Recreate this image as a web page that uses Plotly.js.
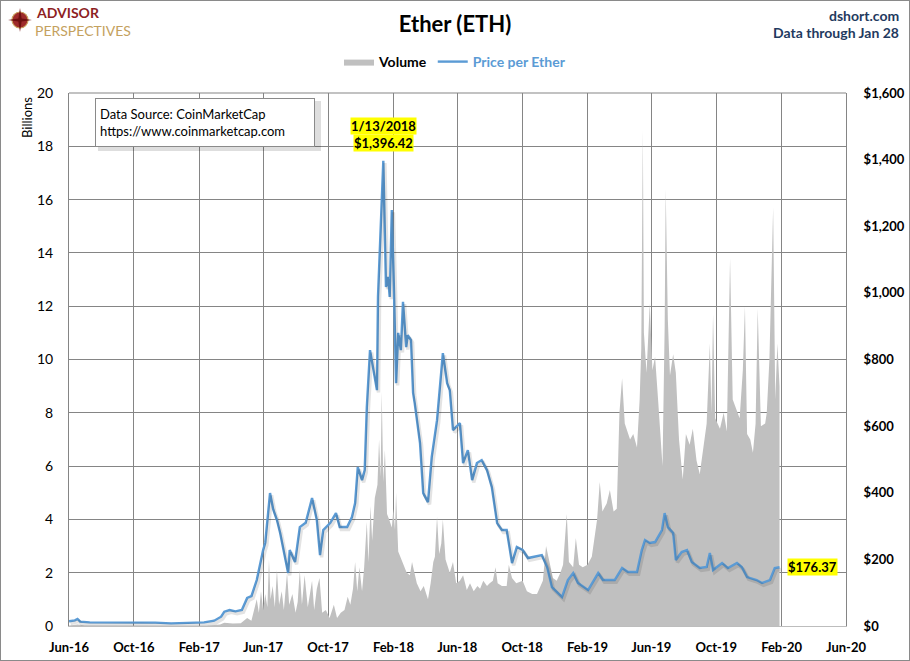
<!DOCTYPE html>
<html>
<head>
<meta charset="utf-8">
<script src="https://cdn.plot.ly/plotly-3.0.1.min.js"></script>
<style>
  html, body { margin: 0; padding: 0; background: #fff; }
  #wrap { position: relative; width: 910px; height: 661px; }
  #chart { width: 910px; height: 661px; }
  #frame { position: absolute; left: 0; top: 0; width: 910px; height: 661px; box-sizing: border-box;
           border: 1px solid #8a8a8a; pointer-events: none; }
</style>
</head>
<body>
<div id="wrap"><div id="chart"></div><div id="frame"></div></div>
<script>
// ---------------- DATA ----------------
const volumeDates = [
"2016-06-01","2016-06-17","2016-07-01","2016-09-01","2016-12-01","2017-02-15","2017-03-12","2017-03-20","2017-04-05","2017-04-20",
"2017-05-02","2017-05-10","2017-05-20","2017-05-24","2017-05-28","2017-06-01","2017-06-05","2017-06-09","2017-06-12","2017-06-15",
"2017-06-19","2017-06-23","2017-06-27","2017-07-01","2017-07-06","2017-07-10","2017-07-16","2017-07-20","2017-07-26","2017-08-01",
"2017-08-05","2017-08-09","2017-08-13","2017-08-18","2017-08-24","2017-09-01","2017-09-05","2017-09-10","2017-09-15","2017-09-20",
"2017-09-27","2017-10-04","2017-10-12","2017-10-18","2017-10-25","2017-11-01","2017-11-07","2017-11-12","2017-11-17","2017-11-21",
"2017-11-25","2017-11-29","2017-12-04","2017-12-08","2017-12-13","2017-12-16","2017-12-20","2017-12-23","2017-12-28","2018-01-02",
"2018-01-05","2018-01-08","2018-01-10","2018-01-13","2018-01-16","2018-01-20","2018-01-24","2018-01-29","2018-02-01","2018-02-04",
"2018-02-06","2018-02-10","2018-02-14","2018-02-20","2018-02-26","2018-03-04","2018-03-08","2018-03-17","2018-03-24","2018-03-30",
"2018-04-07","2018-04-12","2018-04-17","2018-04-20","2018-04-24","2018-04-28","2018-05-02","2018-05-05","2018-05-10","2018-05-18",
"2018-05-24","2018-05-30","2018-06-06","2018-06-12","2018-06-19","2018-06-25","2018-07-02","2018-07-09","2018-07-14","2018-07-20",
"2018-07-27","2018-08-01","2018-08-07","2018-08-12","2018-08-16","2018-08-24","2018-09-02","2018-09-06","2018-09-12","2018-09-20",
"2018-10-02","2018-10-10","2018-10-20","2018-10-29","2018-11-09","2018-11-15","2018-11-19","2018-11-22","2018-11-28","2018-12-05",
"2018-12-12","2018-12-17","2018-12-24","2018-12-28","2019-01-05","2019-01-10","2019-01-16","2019-01-23","2019-02-01","2019-02-09",
"2019-02-14","2019-02-19","2019-02-24","2019-03-01","2019-03-09","2019-03-15","2019-03-22","2019-03-28","2019-04-02","2019-04-07",
"2019-04-12","2019-04-22","2019-04-28","2019-05-05","2019-05-10","2019-05-13","2019-05-16","2019-05-18","2019-05-23","2019-05-29",
"2019-06-03","2019-06-08","2019-06-14","2019-06-22","2019-06-26","2019-06-28","2019-07-02","2019-07-06","2019-07-12","2019-07-17",
"2019-07-23","2019-07-30","2019-08-05","2019-08-12","2019-08-18","2019-08-25","2019-08-31","2019-09-06","2019-09-13","2019-09-19",
"2019-09-22","2019-09-25","2019-09-29","2019-10-08","2019-10-15","2019-10-21","2019-10-27","2019-11-01","2019-11-07","2019-11-14",
"2019-11-20","2019-11-24","2019-11-28","2019-12-04","2019-12-09","2019-12-14","2019-12-18","2019-12-24","2020-01-01","2020-01-04",
"2020-01-09","2020-01-14","2020-01-16","2020-01-20","2020-01-24","2020-01-28"
];
const volumeBillions = [
0.02,0.06,0.02,0.01,0.01,0.01,0.06,0.12,0.09,0.1,
0.3,0.2,1.0,0.5,1.3,0.6,1.2,0.7,2.5,1.0,
1.5,0.7,2.1,0.8,1.3,0.6,2.0,0.8,1.2,0.5,
0.9,2.1,0.8,1.9,0.7,1.7,0.6,1.4,1.8,0.5,
0.6,0.3,0.8,0.3,0.5,0.6,1.1,0.8,1.4,2.4,
1.3,2.2,1.3,2.2,3.9,2.4,4.5,3.2,4.8,5.3,
7.0,5.6,8.8,5.4,6.6,4.2,4.0,3.7,4.4,3.6,
5.0,2.8,2.6,2.3,2.0,1.9,2.4,1.6,1.3,1.5,
1.0,1.6,2.4,2.6,4.1,2.7,3.1,4.0,2.5,2.0,
2.4,1.6,1.7,1.9,1.35,1.6,1.3,1.5,1.4,1.7,
1.5,1.6,1.7,2.2,1.6,1.5,1.5,2.3,1.8,1.6,
1.7,1.3,1.2,1.2,1.7,3.0,2.6,2.3,1.8,1.7,
2.0,2.3,4.2,2.4,2.2,3.3,2.3,2.2,2.3,2.6,
3.4,4.0,5.4,4.3,4.6,5.1,4.3,4.4,8.0,9.3,
7.6,7.0,7.2,6.7,8.5,10.4,18.6,11.0,9.5,12.1,
9.6,10.1,8.4,6.0,11.2,16.4,11.5,9.4,10.2,9.5,
7.0,5.5,7.2,6.8,7.4,6.2,5.7,6.6,7.6,10.6,
8.0,11.7,7.8,7.4,8.0,7.3,13.8,8.5,8.2,7.8,
9.6,12.0,7.2,7.0,6.5,7.6,11.9,7.5,7.6,8.0,
10.0,15.0,15.7,8.5,10.6,9.0
];

const priceDates = [
"2016-06-01","2016-06-12","2016-06-17","2016-06-22","2016-07-10","2016-08-10","2016-09-10","2016-10-10","2016-11-10","2016-12-10",
"2017-01-10","2017-02-10","2017-03-01","2017-03-14","2017-03-20","2017-03-30","2017-04-10","2017-04-22","2017-05-02","2017-05-10",
"2017-05-20","2017-05-26","2017-06-01","2017-06-05","2017-06-14","2017-06-20","2017-06-27","2017-07-03","2017-07-10","2017-07-18",
"2017-07-21","2017-07-31","2017-08-09","2017-08-20","2017-09-01","2017-09-10","2017-09-16","2017-09-22","2017-10-05","2017-10-16",
"2017-10-23","2017-11-06","2017-11-15","2017-11-21","2017-11-26","2017-12-04","2017-12-09","2017-12-13","2017-12-19","2017-12-25",
"2018-01-01","2018-01-03","2018-01-10","2018-01-13","2018-01-18","2018-01-22","2018-01-25","2018-01-29","2018-02-02","2018-02-06",
"2018-02-10","2018-02-15","2018-02-19","2018-02-25","2018-02-28","2018-03-06","2018-03-10","2018-03-13","2018-03-23","2018-03-29",
"2018-04-07","2018-04-14","2018-04-24","2018-05-05","2018-05-13","2018-05-18","2018-05-24","2018-06-06","2018-06-12","2018-06-21",
"2018-06-29","2018-07-08","2018-07-17","2018-07-27","2018-08-05","2018-08-15","2018-08-24","2018-09-02","2018-09-12","2018-09-21",
"2018-10-02","2018-10-12","2018-11-07","2018-11-17","2018-11-26","2018-12-15","2018-12-26","2019-01-05","2019-01-14","2019-02-02",
"2019-02-21","2019-03-02","2019-03-24","2019-04-07","2019-04-18","2019-05-05","2019-05-14","2019-05-20","2019-05-29","2019-06-08",
"2019-06-21","2019-06-26","2019-07-02","2019-07-12","2019-07-17","2019-07-28","2019-08-07","2019-08-16","2019-08-31","2019-09-13",
"2019-09-19","2019-09-25","2019-10-12","2019-10-23","2019-11-09","2019-11-18","2019-11-28","2019-12-16","2019-12-26","2020-01-10",
"2020-01-19","2020-01-28"
];
const priceUSD = [
14,17,21,13,11,11,12,12,10,8,
10,11,16,28,43,48,44,48,84,90,
138,189,228,250,399,350,318,279,220,159,
228,192,297,310,384,318,213,288,309,339,
297,297,327,369,477,438,468,657,828,777,
708,988,1300,1396.42,1018,1048,988,1249,1009,729,
880,828,973,837,873,858,700,669,549,399,
372,507,618,819,729,708,588,609,489,528,
438,489,498,468,417,309,288,288,189,237,
228,204,213,177,117,87,138,159,129,108,
159,138,138,174,162,162,228,258,249,252,
288,339,297,279,198,222,228,192,174,177,
219,168,189,174,189,177,147,138,129,138,
174,176.37
];

const xTickVals = ["2016-06-01","2016-10-01","2017-02-01","2017-06-01","2017-10-01","2018-02-01","2018-06-01",
                   "2018-10-01","2019-02-01","2019-06-01","2019-10-01","2020-02-01","2020-06-01"];
const xTickText = ["Jun-16","Oct-16","Feb-17","Jun-17","Oct-17","Feb-18","Jun-18",
                   "Oct-18","Feb-19","Jun-19","Oct-19","Feb-20","Jun-20"];

const peakDate = "2018-01-13", peakLabelDate = "1/13/2018", peakLabelPrice = "$1,396.42";
const lastDate = "2020-01-28", lastLabel = "$176.37", lastPrice = 176.37;

// ---------------- LAYOUT HELPERS ----------------
const W = 910, H = 661, ML = 69, MR = 64, MT = 93, MB = 35;
const PW = W - ML - MR, PH = H - MT - MB;
const px = x => (x - ML) / PW;
const py = y => (H - MB - y) / PH;
const FONT = "Lato, 'Open Sans', sans-serif";
const BLUE = "#5B9BD5", GRID = "#858585";

const traces = [
  {
    x: volumeDates, y: volumeBillions, name: "<b>Volume</b>", type: "scatter", mode: "lines",
    fill: "tozeroy", fillcolor: "#C0C0C0", line: {width: 0, color: "#C0C0C0"},
    xaxis: "x", yaxis: "y", hoverinfo: "skip"
  },
  {
    x: priceDates, y: priceUSD, type: "scatter", mode: "lines", showlegend: false,
    line: {width: 3.5, color: "rgba(0,0,0,0.11)"}, xaxis: "x2", yaxis: "y3", hoverinfo: "skip"
  },
  {
    x: priceDates, y: priceUSD, name: "<b><span style='color:" + BLUE + "'>Price per Ether</span></b>",
    type: "scatter", mode: "lines", line: {width: 2.4, color: BLUE},
    xaxis: "x", yaxis: "y2"
  }
];

const layout = {
  width: W, height: H,
  margin: {l: ML, r: MR, t: MT, b: MB, pad: 0},
  paper_bgcolor: "#fff", plot_bgcolor: "#fff",
  font: {family: FONT, color: "#000"},
  title: {text: "<b>Ether (ETH)</b>", font: {family: FONT, size: 22, color: "#000"},
          x: 0.5, xref: "container", y: 1 - 24 / H, yref: "container", yanchor: "middle"},
  showlegend: true,
  legend: {orientation: "h", x: px(455), xanchor: "center", y: py(62), yanchor: "middle",
           font: {family: FONT, size: 14, color: "#000"}, itemwidth: 30, tracegroupgap: 0,
           bgcolor: "rgba(0,0,0,0)"},
  xaxis: {
    type: "date", range: ["2016-06-01", "2020-06-01"],
    tickmode: "array", tickvals: xTickVals, ticktext: xTickText,
    showgrid: true, gridcolor: GRID, gridwidth: 1,
    showline: true, linecolor: "#bdbdbd", linewidth: 1, mirror: false,
    ticks: "", ticklabelstandoff: 9,
    tickfont: {family: FONT, size: 13, color: "#000", weight: "bold"},
    zeroline: false, fixedrange: true
  },
  xaxis2: {type: "date", overlaying: "x", range: ["2016-05-29", "2020-05-29"], visible: false, fixedrange: true},
  yaxis: {
    range: [0, 20], dtick: 2, tick0: 0,
    showgrid: true, gridcolor: GRID, gridwidth: 1,
    showline: true, linecolor: GRID, mirror: false, zeroline: false,
    ticks: "", ticklabelstandoff: 12,
    tickfont: {family: FONT, size: 14, color: "#000"}, fixedrange: true
  },
  yaxis2: {
    overlaying: "y", side: "right", range: [0, 1600], dtick: 200, tick0: 0,
    tickprefix: "$", tickformat: ",d", showgrid: false, zeroline: false,
    showline: true, linecolor: GRID, ticks: "", ticklabelstandoff: 14,
    tickfont: {family: FONT, size: 13, color: "#000", weight: "bold"}, fixedrange: true
  },
  yaxis3: {overlaying: "y", range: [7, 1607], visible: false, fixedrange: true},
  shapes: [
    // top border of plot
    {type: "line", xref: "paper", yref: "paper", x0: 0, x1: 1, y0: 1, y1: 1, line: {color: GRID, width: 1}},
    // data source box shadow
    {type: "rect", xref: "paper", yref: "paper", x0: px(98), x1: px(321), y0: py(151), y1: py(101),
     fillcolor: "rgba(0,0,0,0.13)", line: {width: 0}, layer: "above"},
    // logo
    {type: "circle", xref: "paper", yref: "paper", x0: px(12), x1: px(28), y0: py(28), y1: py(12),
     fillcolor: "#9E2B2B", line: {color: "#C9A35E", width: 1.2}},
    {type: "path", xref: "paper", yref: "paper", fillcolor: "#6E1010", line: {width: 0},
     path: "M " + px(20) + " " + py(8) + " L " + px(21.6) + " " + py(18.4) + " L " + px(32) + " " + py(20) +
           " L " + px(21.6) + " " + py(21.6) + " L " + px(20) + " " + py(32) + " L " + px(18.4) + " " + py(21.6) +
           " L " + px(8) + " " + py(20) + " L " + px(18.4) + " " + py(18.4) + " Z"}
  ],
  annotations: [
    {xref: "paper", yref: "paper", x: px(34), y: py(13), xanchor: "left", yanchor: "middle", showarrow: false,
     text: "<b>ADVISOR</b>", font: {family: FONT, size: 14, color: "#8E1F24"}},
    {xref: "paper", yref: "paper", x: px(33), y: py(30), xanchor: "left", yanchor: "middle", showarrow: false,
     text: "PERSPECTIVES", font: {family: FONT, size: 14, color: "#C4A15E"}},
    {xref: "paper", yref: "paper", x: px(901), y: py(15), xanchor: "right", yanchor: "middle", showarrow: false,
     text: "<b>dshort.com</b>", font: {family: FONT, size: 14, color: "#1F3A60"}},
    {xref: "paper", yref: "paper", x: px(901), y: py(32), xanchor: "right", yanchor: "middle", showarrow: false,
     text: "<b>Data through Jan 28</b>", font: {family: FONT, size: 14, color: "#1F3A60"}},
    {xref: "paper", yref: "paper", x: px(27), y: py(118), xanchor: "center", yanchor: "middle", showarrow: false,
     textangle: -90, text: "Billions", font: {family: FONT, size: 13, color: "#000"}},
    {xref: "paper", yref: "paper", x: px(95), y: py(98), xanchor: "left", yanchor: "top", showarrow: false,
     text: "Data Source: CoinMarketCap<br>https://www.coinmarketcap.com", align: "left",
     width: 210, height: 39, bgcolor: "#fff", bordercolor: "#8a8a8a", borderwidth: 1, borderpad: 4,
     font: {family: FONT, size: 13, color: "#000"}},
    {xref: "x", yref: "y2", x: peakDate, y: 1501, xanchor: "center", yanchor: "middle", showarrow: false,
     text: "<b>" + peakLabelDate + "</b>", bgcolor: "#FFFF00", borderpad: 0,
     font: {family: FONT, size: 13, color: "#000"}},
    {xref: "x", yref: "y2", x: peakDate, y: 1450, xanchor: "center", yanchor: "middle", showarrow: false,
     text: "<b>" + peakLabelPrice + "</b>", bgcolor: "#FFFF00", borderpad: 0,
     font: {family: FONT, size: 13, color: "#000"}},
    {xref: "x", yref: "y2", x: lastDate, y: lastPrice, xanchor: "left", yanchor: "middle", xshift: 7, showarrow: false,
     text: "<b>" + lastLabel + "</b>", bgcolor: "#FFFF00", borderpad: 0,
     font: {family: FONT, size: 13, color: "#000"}}
  ]
};

Plotly.newPlot("chart", traces, layout, {displayModeBar: false, staticPlot: true});
</script>
</body>
</html>
